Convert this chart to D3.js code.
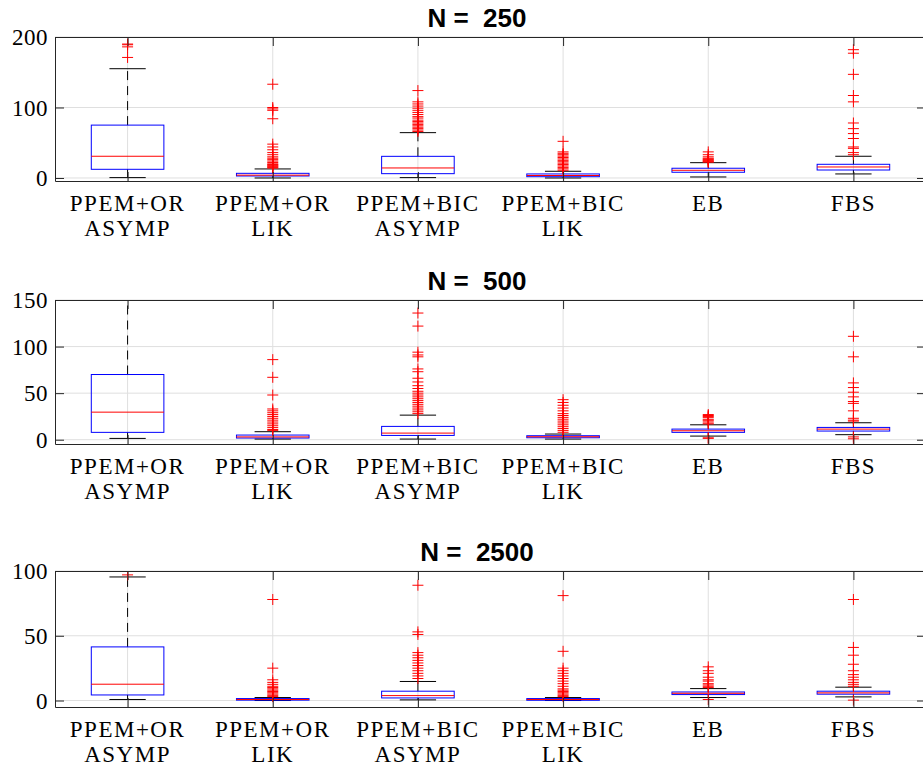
<!DOCTYPE html>
<html>
<head>
<meta charset="utf-8">
<script src="https://cdn.jsdelivr.net/npm/d3@7"></script>
<style>
  body { margin: 0; background: #fff; }
  .tick text, text.xlab { font-family: "Times New Roman", "Liberation Serif", "DejaVu Serif", serif; font-size: 23px; fill: #000; }
  .title { font-family: "Liberation Sans", Arial, sans-serif; font-weight: bold; font-size: 26px; }
</style>
</head>
<body>
<div id="wrapper"></div>
<script>
// methods on the x axis, two lines each
const categories = [
  ["PPEM+OR", "ASYMP"], ["PPEM+OR", "LIK"], ["PPEM+BIC", "ASYMP"],
  ["PPEM+BIC", "LIK"], ["EB"], ["FBS"]
]
const sampleSizes = [250, 500, 2500]
const yTicks = [[0, 100, 200], [0, 50, 100, 150], [0, 50, 100]]
const yLimits = [[-4.3, 200], [-4.6, 150], [-5, 100]]

// box statistics, one row per panel
const lowerWhisker = [
  [0.5, 0, 0.5, 0, 1.4, 5.7],
  [1.4, 0.7, 0.7, 0.7, 3.9, 5.4],
  [0.8, 0, 0.5, 0, 2.3, 2.8]
]
const q1 = [
  [12.3, 2.8, 6.1, 1.8, 8.1, 11.3],
  [7.9, 1.8, 4.6, 2.1, 7.9, 9.3],
  [4.3, 0.3, 2.0, 0.2, 4.6, 4.9]
]
const median = [
  [30.8, 4.0, 14.2, 3.5, 10.9, 15.6],
  [29.6, 3.0, 7.1, 3.2, 9.6, 11.4],
  [12.6, 0.8, 3.8, 0.8, 5.6, 5.9]
]
const q3 = [
  [75, 6.6, 30.7, 5.7, 13.8, 19.4],
  [70, 5.0, 14.3, 4.3, 11.4, 13.2],
  [41.4, 1.5, 7.2, 1.5, 6.6, 7.2]
]
const upperWhisker = [
  [155, 12.8, 64.3, 9.5, 21.7, 30.8],
  [165, 8.6, 26.4, 6.1, 16, 18.2],
  [95.4, 2.3, 14.7, 2.3, 9.2, 10.3]
]
const outliers = [
  [
    [171, 186, 189, 190],
    [133, 100, 98, 96, 84, 48, 44, 40, 36, 33, 30, 28, 26, 24, 22, 20, 19, 18, 17, 16, 15, 14],
    [124, 108, 105, 102, 99, 96, 93, 90, 87, 85, 82, 80, 78, 76, 74, 72, 70, 68, 66],
    [52, 37, 35, 33, 31, 29, 27, 25, 23, 21, 19, 17, 15, 13, 11],
    [37, 33, 30, 28, 27, 26, 25, 24, 23, 22.5],
    [182, 177, 147, 117, 108, 78, 70, 63, 56, 44, 42, 36, 33]
  ],
  [
    [],
    [86, 67, 48, 33, 31, 29, 27, 25, 23, 21, 19, 17, 15, 13, 11, 10],
    [136, 122, 94, 91, 89, 76, 73, 66, 62, 58, 55, 52, 50, 48, 46, 44, 42, 40, 38, 36, 34, 32, 30, 28],
    [43, 40, 37, 34, 31, 28, 26, 24, 22, 20, 18, 16, 14, 12, 10, 8],
    [27, 26, 25, 24, 22, 21, 20, 18, 17, 2, 1.5],
    [111, 89, 61, 56, 51, 46, 41, 39, 31, 23, 21, 20, 3, 1]
  ],
  [
    [97],
    [78, 25, 16, 14, 12.5, 11, 10, 9, 8, 7, 6, 5, 4, 3],
    [89, 53, 51, 37, 35, 33, 31, 29, 27, 25, 23, 21, 19, 17],
    [81, 38, 25, 23, 21, 19, 17, 15, 13, 11, 9, 8, 7, 6, 5, 4, 3],
    [26, 23, 21, 18, 16, 15, 13, 12, 11, 10, 0.8],
    [78, 41, 35, 28, 23, 20, 18, 16, 14, 12.5, 11, 0.3]
  ]
]

const width = 923
const height = 771
// axes rectangles for the three panels
const panels = [
  {top: 37, bottom: 181},
  {top: 300, bottom: 444},
  {top: 571, bottom: 707},
]
const left = 55
const right = 926
const axisColor = "#262626"
const gridColor = "#dfdfdf"

const svg = d3.select("#wrapper")
  .append("svg")
  .attr("width", width)
  .attr("height", height)

const x = d3.scaleLinear()
  .domain([0.5, 6.5])
  .range([left, right])
const boxHalf = (x(1.5) - x(1)) / 2   // box width 0.5
const capHalf = boxHalf / 2           // cap width 0.25

panels.forEach((p, pi) => {
  const y = d3.scaleLinear()
    .domain(yLimits[pi])
    .range([p.bottom, p.top])

  const g = svg.append("g")

  const clipId = `clip-${pi}`
  svg.append("defs").append("clipPath")
    .attr("id", clipId)
    .append("rect")
    .attr("x", left).attr("y", p.top)
    .attr("width", right - left).attr("height", p.bottom - p.top)

  // grid
  g.selectAll(".hgrid")
    .data(yTicks[pi])
    .enter().append("line")
    .attr("x1", left).attr("x2", right)
    .attr("y1", d => y(d)).attr("y2", d => y(d))
    .attr("stroke", gridColor)
  g.selectAll(".vgrid")
    .data(categories)
    .enter().append("line")
    .attr("x1", (d, i) => x(i + 1)).attr("x2", (d, i) => x(i + 1))
    .attr("y1", p.top).attr("y2", p.bottom)
    .attr("stroke", gridColor)

  const plot = g.append("g").attr("clip-path", `url(#${clipId})`)

  const boxes = plot.selectAll(".box")
    .data(categories.map((c, i) => ({
      i: i + 1,
      lo: lowerWhisker[pi][i], q1: q1[pi][i], med: median[pi][i],
      q3: q3[pi][i], hi: upperWhisker[pi][i], out: outliers[pi][i],
    })))
    .enter().append("g")

  // dashed whiskers
  boxes.append("line")
    .attr("x1", d => x(d.i)).attr("x2", d => x(d.i))
    .attr("y1", d => y(d.q3)).attr("y2", d => y(d.hi))
    .attr("stroke", "#000").attr("stroke-dasharray", "9,6")
  boxes.append("line")
    .attr("x1", d => x(d.i)).attr("x2", d => x(d.i))
    .attr("y1", d => y(d.q1)).attr("y2", d => y(d.lo))
    .attr("stroke", "#000").attr("stroke-dasharray", "9,6")
  // caps
  boxes.append("line")
    .attr("x1", d => x(d.i) - capHalf).attr("x2", d => x(d.i) + capHalf)
    .attr("y1", d => y(d.hi)).attr("y2", d => y(d.hi))
    .attr("stroke", "#000")
  boxes.append("line")
    .attr("x1", d => x(d.i) - capHalf).attr("x2", d => x(d.i) + capHalf)
    .attr("y1", d => y(d.lo)).attr("y2", d => y(d.lo))
    .attr("stroke", "#000")
  // box
  boxes.append("rect")
    .attr("x", d => x(d.i) - boxHalf)
    .attr("width", boxHalf * 2)
    .attr("y", d => y(d.q3))
    .attr("height", d => Math.max(y(d.q1) - y(d.q3), 0.5))
    .attr("fill", "none")
    .attr("stroke", "#0000ff")
  // median
  boxes.append("line")
    .attr("x1", d => x(d.i) - boxHalf).attr("x2", d => x(d.i) + boxHalf)
    .attr("y1", d => y(d.med)).attr("y2", d => y(d.med))
    .attr("stroke", "#ff0000")
  // outliers as red plus markers
  boxes.each(function(d) {
    d3.select(this).selectAll(".out")
      .data(d.out)
      .enter().append("path")
      .attr("d", v => `M${x(d.i) - 5.5},${y(v)}h11M${x(d.i)},${y(v) - 5.5}v11`)
      .attr("stroke", "#ff0000")
      .attr("fill", "none")
  })

  // axes with inward ticks
  const yLeft = g.append("g")
    .attr("transform", `translate(${left},0)`)
    .call(d3.axisLeft(y).tickValues(yTicks[pi]).tickSizeInner(-9).tickSizeOuter(0).tickPadding(7))
  const yRight = g.append("g")
    .attr("transform", `translate(${right},0)`)
    .call(d3.axisRight(y).tickValues(yTicks[pi]).tickSizeInner(-9).tickSizeOuter(0).tickFormat(""))
  const xTop = g.append("g")
    .attr("transform", `translate(0,${p.top})`)
    .call(d3.axisTop(x).tickValues([1, 2, 3, 4, 5, 6]).tickSizeInner(-9).tickSizeOuter(0).tickFormat(""))
  const xBottom = g.append("g")
    .attr("transform", `translate(0,${p.bottom})`)
    .call(d3.axisBottom(x).tickValues([1, 2, 3, 4, 5, 6]).tickSizeInner(-9).tickSizeOuter(0).tickFormat(""))

  ;[yLeft, yRight, xTop, xBottom].forEach(a => {
    a.attr("font-family", null).attr("font-size", null)
    a.select(".domain").attr("stroke", axisColor)
    a.selectAll(".tick line").attr("stroke", axisColor)
  })
  yLeft.selectAll(".tick text").attr("dy", "0.34em").style("letter-spacing", "0.5px")

  // two-line category labels
  const labels = g.selectAll(".xlab")
    .data(categories)
    .enter().append("text")
    .attr("class", "xlab")
    .attr("text-anchor", "middle")
    .style("letter-spacing", "1.5px")
  labels.selectAll("tspan")
    .data((d, i) => d.map((t, k) => ({t, k, i})))
    .enter().append("tspan")
    .attr("x", d => x(d.i + 1))
    .attr("y", d => p.bottom + 30 + d.k * 24.5)
    .text(d => d.t)

  svg.append("text")
    .attr("class", "title")
    .attr("x", 477)
    .attr("y", p.top - 10)
    .attr("text-anchor", "middle")
    .attr("xml:space", "preserve")
    .style("white-space", "pre")
    .text(`N =  ${sampleSizes[pi]}`)
})
</script>
</body>
</html>
